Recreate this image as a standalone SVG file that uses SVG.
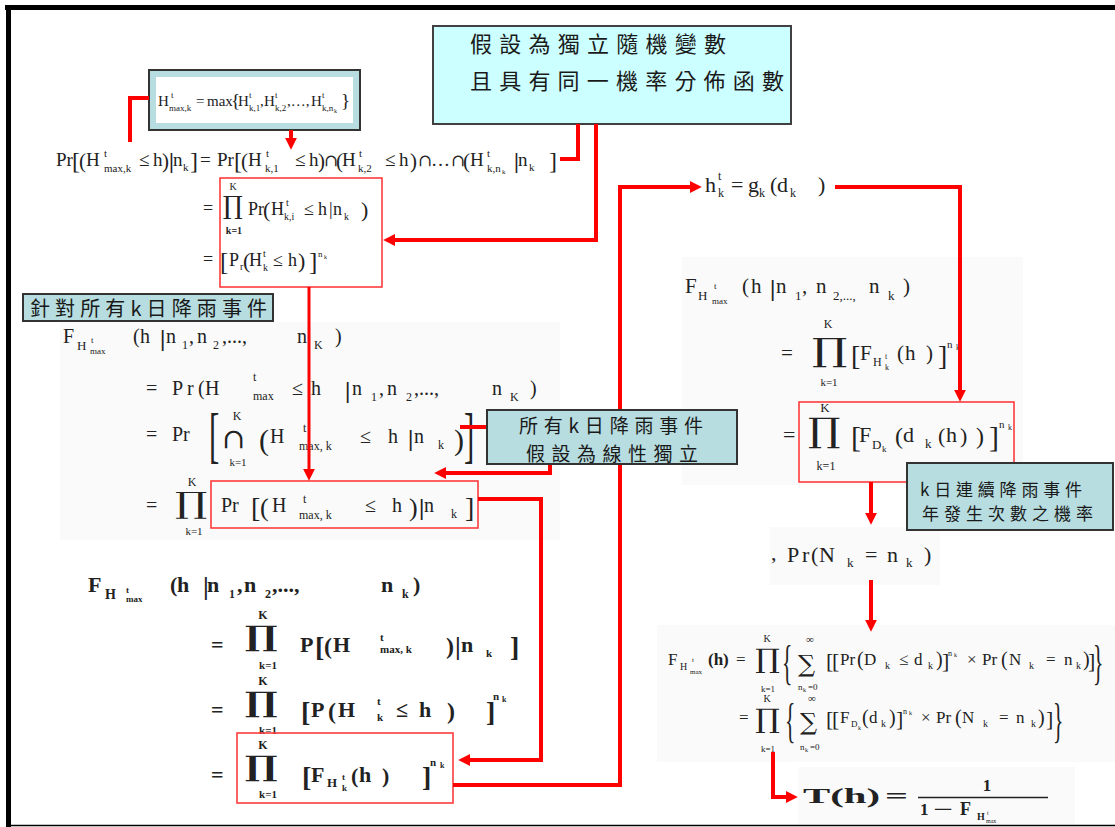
<svg xmlns="http://www.w3.org/2000/svg" width="1115" height="827" viewBox="0 0 1115 827">
<style>
.m{font-family:"Liberation Serif","Times New Roman",serif;fill:#222}
.b{font-weight:bold}
.op{font-family:"DejaVu Serif","Liberation Serif",serif;fill:#222}
.cj{font-family:"Noto Sans CJK TC","Noto Sans CJK SC",sans-serif;fill:#1a1a1a}
.mid{text-anchor:middle}
.con{fill:none;stroke:#ff0000;stroke-width:4;stroke-linejoin:miter}
.rb{fill:none;stroke:#ff3b3b;stroke-width:1.6}
.tb{fill:#b7dde0;stroke:#333;stroke-width:2}
.bg{fill:#fafafa}
</style>
<defs>
<marker id="ah" viewBox="0 0 10 10" refX="1" refY="5" markerWidth="12" markerHeight="12" markerUnits="userSpaceOnUse" orient="auto"><path d="M0,0 L10,5 L0,10 z" fill="#ff0000"/></marker>
</defs>
<rect width="1115" height="827" fill="#fff"/>
<g id="frame">
<rect x="5" y="5" width="1110" height="5" fill="#000"/>
<rect x="6" y="5" width="5" height="822" fill="#000"/>
<line x1="6" y1="825.5" x2="1115" y2="825.5" stroke="#000" stroke-width="1.5"/>
</g>
<g id="backgrounds">
<rect class="bg" x="60" y="322" width="500" height="218"/>
<rect class="bg" x="682" y="257" width="341" height="228"/>
<rect class="bg" x="770" y="527" width="170" height="58"/>
<rect class="bg" x="657" y="625" width="458" height="137"/>
<rect class="bg" x="798" y="767" width="277" height="57"/>
</g>

<g id="node-assumption">
<rect x="433" y="26" width="358" height="98" fill="#ccffff" stroke="#404040" stroke-width="2"/>
<text class="cj" x="470" y="52" font-size="22" textLength="256">假設為獨立隨機變數</text>
<text class="cj" x="470" y="89" font-size="22" textLength="314">且具有同一機率分佈函數</text>
</g>

<g id="node-hmax-def">
<rect class="tb" x="149" y="70" width="211" height="60"/>
<rect x="156" y="77" width="197" height="46" fill="#fff"/>
<text class="m" font-size="15" x="158" y="106">H</text>
<text class="m" font-size="9" x="171" y="98">t</text>
<text class="m" font-size="9" x="169" y="111">max,k</text>
<text class="m" font-size="15" x="196" y="106">=</text>
<text class="m" font-size="15" x="207" y="106">max</text>
<text class="m" font-size="19" x="231" y="107">{</text>
<text class="m" font-size="15" x="238" y="106">H</text>
<text class="m" font-size="9" x="249" y="98">t</text>
<text class="m" font-size="9" x="249" y="111">k,1</text>
<text class="m" font-size="15" x="260" y="106">,</text>
<text class="m" font-size="15" x="264" y="106">H</text>
<text class="m" font-size="9" x="275" y="98">t</text>
<text class="m" font-size="9" x="275" y="111">k,2</text>
<text class="m" font-size="15" x="287" y="106">,…,</text>
<text class="m" font-size="15" x="311" y="106">H</text>
<text class="m" font-size="9" x="322" y="98">t</text>
<text class="m" font-size="9" x="322" y="111">k,n</text>
<text class="m" font-size="6" x="334" y="113">k</text>
<text class="m" font-size="19" x="341" y="107">}</text>
</g>

<g id="node-pr-intersection">
<text class="m" font-size="19" x="56" y="166">Pr</text>
<text class="m" font-size="24" x="72" y="169">[</text>
<text class="m" font-size="21" x="79" y="168">(</text>
<text class="m" font-size="19" x="86" y="166">H</text>
<text class="m" font-size="11" x="104" y="157">t</text>
<text class="m" font-size="11" x="104" y="172">max,k</text>
<text class="m" font-size="19" x="139" y="166">≤</text>
<text class="m" font-size="19" x="153" y="166">h</text>
<text class="m" font-size="21" x="162" y="168">)</text>
<text class="m b" font-size="22" x="169" y="168">|</text>
<text class="m" font-size="19" x="173" y="166">n</text>
<text class="m" font-size="11" x="183" y="171">k</text>
<text class="m" font-size="24" x="190" y="169">]</text>
<text class="m" font-size="19" x="200" y="166">=</text>
<text class="m" font-size="19" x="217" y="166">Pr</text>
<text class="m" font-size="24" x="234" y="169">[</text>
<text class="m" font-size="21" x="241" y="168">(</text>
<text class="m" font-size="19" x="248" y="166">H</text>
<text class="m" font-size="11" x="266" y="157">t</text>
<text class="m" font-size="11" x="265" y="172">k,1</text>
<text class="m" font-size="19" x="295" y="166">≤</text>
<text class="m" font-size="19" x="309" y="166">h</text>
<text class="m" font-size="21" x="318" y="168">)</text>
<text class="op" font-size="17" x="324" y="166">∩</text>
<text class="m" font-size="21" x="336" y="168">(</text>
<text class="m" font-size="19" x="342" y="166">H</text>
<text class="m" font-size="11" x="359" y="157">t</text>
<text class="m" font-size="11" x="358" y="172">k,2</text>
<text class="m" font-size="19" x="385" y="166">≤</text>
<text class="m" font-size="19" x="399" y="166">h</text>
<text class="m" font-size="21" x="410" y="168">)</text>
<text class="op" font-size="17" x="418" y="166">∩</text>
<text class="m" font-size="19" x="431" y="166">…</text>
<text class="op" font-size="17" x="451" y="166">∩</text>
<text class="m" font-size="21" x="463" y="168">(</text>
<text class="m" font-size="19" x="470" y="166">H</text>
<text class="m" font-size="11" x="487" y="157">t</text>
<text class="m" font-size="11" x="487" y="172">k,n</text>
<text class="m" font-size="7" x="502" y="174">k</text>
<text class="m b" font-size="22" x="514" y="168">|</text>
<text class="m" font-size="19" x="518" y="166">n</text>
<text class="m" font-size="11" x="529" y="171">k</text>
<text class="m" font-size="24" x="549" y="169">]</text>
</g>

<g id="node-product-box1">
<rect class="rb" x="220" y="178" width="162" height="109"/>
<text class="m" font-size="18" x="203" y="214">=</text>
<text class="op" font-size="25" x="223" y="214">∏</text>
<text class="m mid" font-size="10" x="233" y="190">K</text>
<text class="m mid b" font-size="10" x="234" y="234">k=1</text>
<text class="m" font-size="18" x="248" y="215">Pr</text>
<text class="m" font-size="22" x="263" y="217">(</text>
<text class="m" font-size="18" x="271" y="215">H</text>
<text class="m" font-size="10" x="286" y="206">t</text>
<text class="m" font-size="10" x="284" y="220">k,i</text>
<text class="m" font-size="18" x="304" y="215">≤</text>
<text class="m" font-size="18" x="318" y="215">h</text>
<text class="m" font-size="18" x="329" y="215">|</text>
<text class="m" font-size="18" x="333" y="215">n</text>
<text class="m" font-size="10" x="344" y="220">k</text>
<text class="m" font-size="22" x="361" y="217">)</text>
<text class="m" font-size="18" x="203" y="265">=</text>
<text class="m" font-size="25" x="220" y="270">[</text>
<text class="m" font-size="18" x="229" y="266">P</text>
<text class="m" font-size="10" x="240" y="270">r</text>
<text class="m" font-size="22" x="243" y="268">(</text>
<text class="m" font-size="18" x="249" y="266">H</text>
<text class="m" font-size="10" x="263" y="257">t</text>
<text class="m" font-size="10" x="263" y="271">k</text>
<text class="m" font-size="18" x="273" y="266">≤</text>
<text class="m" font-size="18" x="288" y="266">h</text>
<text class="m" font-size="22" x="298" y="268">)</text>
<text class="m" font-size="25" x="309" y="270">]</text>
<text class="m" font-size="9" x="318" y="257">n</text>
<text class="m" font-size="6" x="324" y="259">k</text>
</g>

<g id="node-all-events-label">
<rect class="tb" x="23" y="294" width="250" height="27"/>
<text class="cj" x="30" y="316" font-size="20" textLength="237">針對所有k日降雨事件</text>
</g>

<g id="node-joint-cdf">
<text class="m" font-size="20" x="63" y="343">F</text>
<text class="m" font-size="13" x="77" y="350">H</text>
<text class="m" font-size="9" x="91" y="343">t</text>
<text class="m" font-size="9" x="90" y="354">max</text>
<text class="m" font-size="20" x="133" y="343">(</text>
<text class="m" font-size="20" x="140" y="343">h</text>
<text class="m b" font-size="24" x="160" y="346">|</text>
<text class="m" font-size="20" x="166" y="343">n</text>
<text class="m" font-size="12" x="182" y="349">1</text>
<text class="m" font-size="20" x="189" y="343">,</text>
<text class="m" font-size="20" x="197" y="343">n</text>
<text class="m" font-size="12" x="213" y="349">2</text>
<text class="m" font-size="20" x="222" y="343">,...,</text>
<text class="m" font-size="20" x="297" y="343">n</text>
<text class="m" font-size="12" x="314" y="349">K</text>
<text class="m" font-size="20" x="335" y="343">)</text>

<text class="m" font-size="20" x="146" y="395">=</text>
<text class="m" font-size="20" x="172" y="395">P</text>
<text class="m" font-size="20" x="187" y="395">r</text>
<text class="m" font-size="20" x="198" y="395">(</text>
<text class="m" font-size="20" x="205" y="395">H</text>
<text class="m" font-size="12" x="253" y="381">t</text>
<text class="m" font-size="12" x="253" y="400">max</text>
<text class="m" font-size="20" x="292" y="395">≤</text>
<text class="m" font-size="20" x="311" y="395">h</text>
<text class="m b" font-size="24" x="345" y="398">|</text>
<text class="m" font-size="20" x="352" y="395">n</text>
<text class="m" font-size="12" x="371" y="401">1</text>
<text class="m" font-size="20" x="379" y="395">,</text>
<text class="m" font-size="20" x="387" y="395">n</text>
<text class="m" font-size="12" x="406" y="401">2</text>
<text class="m" font-size="20" x="414" y="395">,...,</text>
<text class="m" font-size="20" x="492" y="395">n</text>
<text class="m" font-size="12" x="510" y="401">K</text>
<text class="m" font-size="20" x="530" y="395">)</text>

<text class="m" font-size="20" x="146" y="441">=</text>
<text class="m" font-size="20" x="172" y="441">Pr</text>
<text class="m" font-size="62" transform="translate(209,456) scale(0.5,1)">[</text>
<text class="op" font-size="28" x="222" y="448">∩</text>
<text class="m mid" font-size="12" x="237" y="420">K</text>
<text class="m mid" font-size="11" x="238" y="466">k=1</text>
<text class="m" font-size="30" x="259" y="450">(</text>
<text class="m" font-size="20" x="270" y="443">H</text>
<text class="m" font-size="12" x="303" y="432">t</text>
<text class="m" font-size="12" x="299" y="450">max, k</text>
<text class="m" font-size="20" x="360" y="443">≤</text>
<text class="m" font-size="20" x="388" y="443">h</text>
<text class="m b" font-size="24" x="408" y="446">|</text>
<text class="m" font-size="20" x="414" y="443">n</text>
<text class="m" font-size="12" x="438" y="449">k</text>
<text class="m" font-size="30" x="454" y="450">)</text>
<text class="m" font-size="62" transform="translate(464,456) scale(0.5,1)">]</text>

<text class="m" font-size="20" x="146" y="512">=</text>
<text class="op" font-size="29" transform="translate(175,513) scale(1.4,1)">∏</text>
<text class="m mid" font-size="12" x="192" y="486">K</text>
<text class="m mid" font-size="11" x="194" y="535">k=1</text>
</g>

<g id="node-product-box2">
<rect class="rb" x="211" y="481" width="267" height="47"/>
<text class="m" font-size="20" x="221" y="512">Pr</text>
<text class="m" font-size="28" x="251" y="517">[</text>
<text class="m" font-size="26" x="260" y="516">(</text>
<text class="m" font-size="20" x="272" y="512">H</text>
<text class="m" font-size="12" x="303" y="503">t</text>
<text class="m" font-size="12" x="299" y="519">max, k</text>
<text class="m" font-size="20" x="365" y="512">≤</text>
<text class="m" font-size="20" x="392" y="512">h</text>
<text class="m" font-size="26" x="409" y="516">)</text>
<text class="m b" font-size="24" x="419" y="515">|</text>
<text class="m" font-size="20" x="424" y="512">n</text>
<text class="m" font-size="12" x="451" y="518">k</text>
<text class="m" font-size="28" x="465" y="517">]</text>
</g>

<g id="node-joint-cdf-bold">
<text class="m b" font-size="22" x="88" y="592">F</text>
<text class="m b" font-size="14" x="105" y="599">H</text>
<text class="m b" font-size="9" x="126" y="593">t</text>
<text class="m b" font-size="9" x="126" y="602">max</text>
<text class="m b" font-size="22" x="170" y="592">(</text>
<text class="m b" font-size="22" x="177" y="592">h</text>
<text class="m b" font-size="26" x="203" y="595">|</text>
<text class="m b" font-size="22" x="207" y="592">n</text>
<text class="m b" font-size="12" x="229" y="598">1</text>
<text class="m b" font-size="22" x="237" y="592">,</text>
<text class="m b" font-size="22" x="244" y="592">n</text>
<text class="m b" font-size="12" x="265" y="598">2</text>
<text class="m b" font-size="22" x="272" y="592">,...,</text>
<text class="m b" font-size="22" x="381" y="592">n</text>
<text class="m b" font-size="12" x="402" y="598">k</text>
<text class="m b" font-size="22" x="413" y="592">)</text>

<text class="m b" font-size="22" x="211" y="652">=</text>
<text class="op b" font-size="28" transform="translate(245,646) scale(1.4,1)">∏</text>
<text class="m b mid" font-size="12" x="263" y="619">K</text>
<text class="m b mid" font-size="11" x="268" y="669">k=1</text>
<text class="m b" font-size="22" x="300" y="652">P</text>
<text class="m b" font-size="28" x="315" y="656">[</text>
<text class="m b" font-size="24" x="324" y="654">(</text>
<text class="m b" font-size="22" x="333" y="652">H</text>
<text class="m b" font-size="11" x="380" y="641">t</text>
<text class="m b" font-size="11" x="380" y="653">max, k</text>
<text class="m b" font-size="24" x="446" y="654">)</text>
<text class="m b" font-size="26" x="455" y="655">|</text>
<text class="m b" font-size="22" x="461" y="652">n</text>
<text class="m b" font-size="11" x="486" y="657">k</text>
<text class="m b" font-size="28" x="510" y="656">]</text>

<text class="m b" font-size="22" x="211" y="717">=</text>
<text class="op b" font-size="28" transform="translate(245,712) scale(1.4,1)">∏</text>
<text class="m b mid" font-size="12" x="263" y="685">K</text>
<text class="m b mid" font-size="11" x="268" y="734">k=1</text>
<text class="m b" font-size="28" x="301" y="721">[</text>
<text class="m b" font-size="22" x="311" y="717">P</text>
<text class="m b" font-size="24" x="328" y="719">(</text>
<text class="m b" font-size="22" x="338" y="717">H</text>
<text class="m b" font-size="11" x="377" y="705">t</text>
<text class="m b" font-size="11" x="377" y="721">k</text>
<text class="m b" font-size="22" x="396" y="717">≤</text>
<text class="m b" font-size="22" x="419" y="717">h</text>
<text class="m b" font-size="24" x="447" y="719">)</text>
<text class="m b" font-size="28" x="486" y="721">]</text>
<text class="m b" font-size="11" x="493" y="700">n</text>
<text class="m b" font-size="8" x="502" y="702">k</text>

<text class="m b" font-size="22" x="211" y="782">=</text>
<text class="op b" font-size="28" transform="translate(245,776) scale(1.4,1)">∏</text>
<text class="m b mid" font-size="12" x="263" y="749">K</text>
<text class="m b mid" font-size="11" x="268" y="798">k=1</text>
</g>

<g id="node-product-box3">
<rect class="rb" x="237" y="733" width="216" height="70"/>
<text class="m b" font-size="28" x="302" y="786">[</text>
<text class="m b" font-size="22" x="311" y="782">F</text>
<text class="m b" font-size="13" x="327" y="787">H</text>
<text class="m b" font-size="9" x="342" y="780">t</text>
<text class="m b" font-size="9" x="342" y="791">k</text>
<text class="m b" font-size="22" x="351" y="783">(</text>
<text class="m b" font-size="22" x="359" y="782">h</text>
<text class="m b" font-size="22" x="382" y="783">)</text>
<text class="m b" font-size="28" x="422" y="786">]</text>
<text class="m b" font-size="11" x="430" y="766">n</text>
<text class="m b" font-size="8" x="440" y="768">k</text>
</g>

<g id="node-h-g">
<text class="m" font-size="22" x="705" y="192">h</text>
<text class="m" font-size="12" x="718" y="180">t</text>
<text class="m" font-size="12" x="718" y="197">k</text>
<text class="m" font-size="22" x="731" y="192">=</text>
<text class="m" font-size="22" x="748" y="192">g</text>
<text class="m" font-size="12" x="759" y="197">k</text>
<text class="m" font-size="22" x="770" y="192">(</text>
<text class="m" font-size="22" x="777" y="192">d</text>
<text class="m" font-size="12" x="790" y="197">k</text>
<text class="m" font-size="22" x="818" y="192">)</text>
</g>

<g id="node-right-cdf">
<text class="m" font-size="21" x="685" y="293">F</text>
<text class="m" font-size="13" x="698" y="300">H</text>
<text class="m" font-size="9" x="714" y="289">t</text>
<text class="m" font-size="9" x="712" y="304">max</text>
<text class="m" font-size="21" x="742" y="293">(</text>
<text class="m" font-size="21" x="751" y="293">h</text>
<text class="m b" font-size="24" x="770" y="296">|</text>
<text class="m" font-size="21" x="776" y="293">n</text>
<text class="m" font-size="13" x="795" y="300">1</text>
<text class="m" font-size="21" x="802" y="293">,</text>
<text class="m" font-size="21" x="816" y="293">n</text>
<text class="m" font-size="13" x="833" y="300">2,...,</text>
<text class="m" font-size="21" x="869" y="293">n</text>
<text class="m" font-size="13" x="888" y="300">k</text>
<text class="m" font-size="21" x="903" y="293">)</text>

<text class="m" font-size="21" x="781" y="360">=</text>
<text class="op" font-size="32" transform="translate(812,361) scale(1.4,1)">∏</text>
<text class="m mid" font-size="12" x="828" y="328">K</text>
<text class="m mid" font-size="11" x="829" y="386">k=1</text>
<text class="m" font-size="28" x="851" y="365">[</text>
<text class="m" font-size="21" x="860" y="360">F</text>
<text class="m" font-size="12" x="873" y="366">H</text>
<text class="m" font-size="8" x="885" y="359">t</text>
<text class="m" font-size="8" x="885" y="370">k</text>
<text class="m" font-size="21" x="897" y="360">(</text>
<text class="m" font-size="21" x="905" y="360">h</text>
<text class="m" font-size="21" x="926" y="360">)</text>
<text class="m" font-size="28" x="938" y="365">]</text>
<text class="m" font-size="11" x="947" y="348">n</text>
<text class="m" font-size="8" x="956" y="350">k</text>

<text class="m" font-size="22" x="783" y="442">=</text>
<text class="op" font-size="34" transform="translate(808,442) scale(1.2,1)">∏</text>
</g>

<g id="node-product-box4">
<rect class="rb" x="799" y="402" width="215" height="80"/>
<text class="m mid" font-size="13" x="825" y="412">K</text>
<text class="m mid" font-size="12" x="826" y="470">k=1</text>
<text class="m" font-size="30" x="851" y="447">[</text>
<text class="m" font-size="22" x="859" y="442">F</text>
<text class="m" font-size="13" x="872" y="449">D</text>
<text class="m" font-size="9" x="882" y="452">k</text>
<text class="m" font-size="24" x="895" y="444">(</text>
<text class="m" font-size="22" x="903" y="442">d</text>
<text class="m" font-size="13" x="925" y="448">k</text>
<text class="m" font-size="22" x="938" y="443">(</text>
<text class="m" font-size="22" x="946" y="442">h</text>
<text class="m" font-size="22" x="960" y="443">)</text>
<text class="m" font-size="24" x="976" y="444">)</text>
<text class="m" font-size="30" x="989" y="447">]</text>
<text class="m" font-size="11" x="999" y="428">n</text>
<text class="m" font-size="8" x="1008" y="430">k</text>
</g>

<g id="node-pr-n">
<text class="m" font-size="22" x="771" y="560">,</text>
<text class="m" font-size="22" x="787" y="562">P</text>
<text class="m" font-size="22" x="802" y="562">r</text>
<text class="m" font-size="22" x="811" y="562">(</text>
<text class="m" font-size="22" x="819" y="562">N</text>
<text class="m" font-size="13" x="847" y="567">k</text>
<text class="m" font-size="22" x="865" y="562">=</text>
<text class="m" font-size="22" x="887" y="562">n</text>
<text class="m" font-size="13" x="906" y="567">k</text>
<text class="m" font-size="22" x="924" y="562">)</text>
</g>

<g id="node-total-cdf">
<text class="m" font-size="17" x="668" y="665">F</text>
<text class="m" font-size="10" x="680" y="670">H</text>
<text class="m" font-size="7" x="692" y="662">t</text>
<text class="m" font-size="7" x="690" y="674">max</text>
<text class="m b" font-size="17" x="708" y="665">(h)</text>
<text class="m" font-size="17" x="736" y="665">=</text>
<text class="op" font-size="27" transform="translate(755,668) scale(1.15,1)">∏</text>
<text class="m mid" font-size="10" x="767" y="642">K</text>
<text class="m mid" font-size="9" x="768" y="692">k=1</text>
<text class="m" font-size="48" transform="translate(782,679) scale(0.45,1)">{</text>
<text class="op" font-size="24" x="798" y="672">∑</text>
<text class="m mid" font-size="11" x="810" y="643">∞</text>
<text class="m" font-size="9" x="798" y="690">n</text>
<text class="m" font-size="6" x="803" y="692">k</text>
<text class="m" font-size="9" x="808" y="690">=0</text>
<text class="m" font-size="22" x="826" y="668">[</text>
<text class="m" font-size="22" x="832" y="668">[</text>
<text class="m" font-size="17" x="840" y="665">Pr</text>
<text class="m" font-size="20" x="857" y="666">(</text>
<text class="m" font-size="17" x="864" y="665">D</text>
<text class="m" font-size="10" x="885" y="669">k</text>
<text class="m" font-size="17" x="899" y="665">≤</text>
<text class="m" font-size="17" x="914" y="665">d</text>
<text class="m" font-size="10" x="928" y="669">k</text>
<text class="m" font-size="20" x="936" y="666">)</text>
<text class="m" font-size="22" x="942" y="668">]</text>
<text class="m" font-size="8" x="948" y="656">n</text>
<text class="m" font-size="6" x="954" y="657">k</text>
<text class="m" font-size="17" x="967" y="665">×</text>
<text class="m" font-size="17" x="982" y="665">Pr</text>
<text class="m" font-size="20" x="1001" y="666">(</text>
<text class="m" font-size="17" x="1009" y="665">N</text>
<text class="m" font-size="10" x="1029" y="669">k</text>
<text class="m" font-size="17" x="1046" y="665">=</text>
<text class="m" font-size="17" x="1064" y="665">n</text>
<text class="m" font-size="10" x="1076" y="669">k</text>
<text class="m" font-size="20" x="1083" y="666">)</text>
<text class="m" font-size="22" x="1088" y="668">]</text>
<text class="m" font-size="48" transform="translate(1093,679) scale(0.45,1)">}</text>

<text class="m" font-size="17" x="739" y="723">=</text>
<text class="op" font-size="27" transform="translate(755,728) scale(1.15,1)">∏</text>
<text class="m mid" font-size="10" x="767" y="702">K</text>
<text class="m mid" font-size="9" x="768" y="752">k=1</text>
<text class="m" font-size="48" transform="translate(785,737) scale(0.45,1)">{</text>
<text class="op" font-size="24" x="800" y="730">∑</text>
<text class="m mid" font-size="11" x="812" y="702">∞</text>
<text class="m" font-size="9" x="800" y="750">n</text>
<text class="m" font-size="6" x="805" y="752">k</text>
<text class="m" font-size="9" x="810" y="750">=0</text>
<text class="m" font-size="22" x="826" y="726">[</text>
<text class="m" font-size="22" x="832" y="726">[</text>
<text class="m" font-size="17" x="840" y="723">F</text>
<text class="m" font-size="9" x="851" y="727">D</text>
<text class="m" font-size="6" x="858" y="730">k</text>
<text class="m" font-size="20" x="862" y="724">(</text>
<text class="m" font-size="17" x="869" y="723">d</text>
<text class="m" font-size="10" x="881" y="727">k</text>
<text class="m" font-size="20" x="889" y="724">)</text>
<text class="m" font-size="22" x="896" y="726">]</text>
<text class="m" font-size="8" x="903" y="714">n</text>
<text class="m" font-size="6" x="909" y="715">k</text>
<text class="m" font-size="17" x="921" y="723">×</text>
<text class="m" font-size="17" x="936" y="723">Pr</text>
<text class="m" font-size="20" x="955" y="724">(</text>
<text class="m" font-size="17" x="962" y="723">N</text>
<text class="m" font-size="10" x="983" y="727">k</text>
<text class="m" font-size="17" x="999" y="723">=</text>
<text class="m" font-size="17" x="1016" y="723">n</text>
<text class="m" font-size="10" x="1031" y="727">k</text>
<text class="m" font-size="20" x="1038" y="724">)</text>
<text class="m" font-size="22" x="1046" y="726">]</text>
<text class="m" font-size="48" transform="translate(1053,737) scale(0.45,1)">}</text>
</g>

<g id="node-return-period">
<text class="m b" font-size="21" x="803" y="803" textLength="77" lengthAdjust="spacingAndGlyphs">T(h)</text>
<text class="m b" font-size="21" x="885" y="803" textLength="23" lengthAdjust="spacingAndGlyphs">=</text>
<text class="m b mid" font-size="17" x="987" y="791">1</text>
<line x1="918" y1="797.5" x2="1048" y2="797.5" stroke="#222" stroke-width="1.5"/>
<text class="m b" font-size="17" x="920" y="815">1</text>
<text class="m b" font-size="17" x="933" y="815" textLength="20" lengthAdjust="spacingAndGlyphs">−</text>
<text class="m b" font-size="18" x="960" y="815">F</text>
<text class="m b" font-size="10" x="977" y="820">H</text>
<text class="m" font-size="6" x="987" y="815">t</text>
<text class="m" font-size="6" x="986" y="823">max</text>
</g>

<g id="connectors">
<polyline class="con" points="149,98 130,98 130,142"/>
<line class="con" x1="291" y1="130" x2="291" y2="139" marker-end="url(#ah)"/>
<polyline class="con" points="578,124 578,159 560,159"/>
<polyline class="con" points="596,124 596,240 394,240" marker-end="url(#ah)"/>
<line class="con" style="stroke-width:3" x1="309" y1="287" x2="309" y2="470" marker-end="url(#ah)"/>
<line class="con" x1="487" y1="427" x2="460" y2="427"/>
<polyline class="con" points="550,464 550,473 445,473" marker-end="url(#ah)"/>
<polyline class="con" points="478,499 541,499 541,760 469,760" marker-end="url(#ah)"/>
<polyline class="con" points="453,785 620,785 620,187 691,187" marker-end="url(#ah)"/>
<polyline class="con" points="835,187 960,187 960,391" marker-end="url(#ah)"/>
<line class="con" x1="871" y1="482" x2="871" y2="514" marker-end="url(#ah)"/>
<line class="con" x1="871" y1="580" x2="871" y2="621" marker-end="url(#ah)"/>
<polyline class="con" points="773,752 773,797 787,797" marker-end="url(#ah)"/>
</g>

<g id="node-linear-independent">
<rect class="tb" x="487" y="410" width="250" height="54"/>
<text class="cj" x="519" y="433" font-size="19" textLength="184">所有k日降雨事件</text>
<text class="cj" x="526" y="461" font-size="19" textLength="172">假設為線性獨立</text>
</g>
<g id="node-annual-frequency">
<rect class="tb" x="907" y="463" width="206" height="67"/>
<text class="cj" x="920" y="496" font-size="17" textLength="162">k日連續降雨事件</text>
<text class="cj" x="922" y="520" font-size="17" textLength="171">年發生次數之機率</text>
</g>
</svg>
